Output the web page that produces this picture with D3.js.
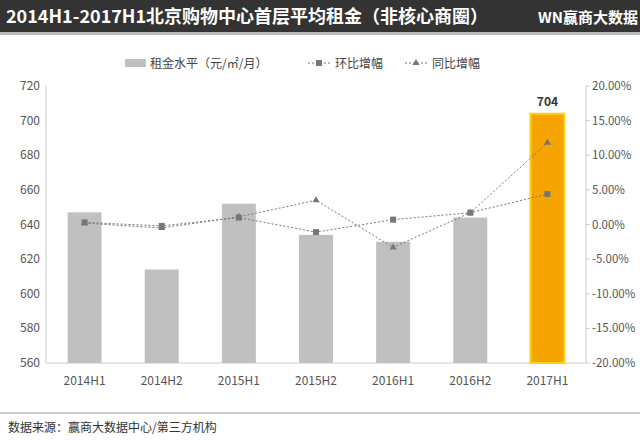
<!DOCTYPE html>
<html>
<head>
<meta charset="utf-8">
<script src="https://cdn.jsdelivr.net/npm/d3@7"></script>
<style>
  body { margin: 0; background: #fff; font-family: "Noto Sans CJK SC", sans-serif; }
</style>
</head>
<body>
<script>
// data
var periods = ["2014H1", "2014H2", "2015H1", "2015H2", "2016H1", "2016H2", "2017H1"];
var rent = [647, 614, 652, 634, 630, 644, 704];
var hoh = [0.3, -0.2, 1.0, -1.1, 0.7, 1.7, 4.4];   // 环比 %
var yoy = [0.2, -0.5, 1.1, 3.5, -3.3, 1.7, 11.8];  // 同比 %
var leftTicks = d3.range(560, 721, 20);
var rightTicks = d3.range(-20, 21, 5);

var W = 640, H = 440;
var svg = d3.select("body").append("svg").attr("width", W).attr("height", H);

// header
svg.append("rect").attr("x", 0).attr("y", 0).attr("width", W).attr("height", 32).attr("fill", "#333");
svg.append("rect").attr("x", 0).attr("y", 32).attr("width", W).attr("height", 3).attr("fill", "#bbb");
svg.append("text").attr("x", 6).attr("y", 23).attr("fill", "#fff")
  .style("font-size", "18px").style("font-weight", "bold")
  .text("2014H1-2017H1北京购物中心首层平均租金（非核心商圈）");
svg.append("text").attr("x", 538).attr("y", 23).attr("fill", "#fff")
  .style("font-size", "15px").style("font-weight", "bold").text("WN赢商大数据");

var m = { l: 46, r: 586, t: 86, b: 363 };
var x = d3.scaleBand().domain(periods).range([m.l, m.r]).paddingInner(0.56).paddingOuter(0.28);
var y = d3.scaleLinear().domain([560, 720]).range([m.b, m.t]);
var y2 = d3.scaleLinear().domain([-20, 20]).range([m.b, m.t]);
var cx = function(i) { return x(periods[i]) + x.bandwidth() / 2; };

// axes
svg.append("line").attr("x1", m.l).attr("x2", m.l).attr("y1", m.t).attr("y2", m.b).attr("stroke", "#ccc");
svg.append("line").attr("x1", m.r).attr("x2", m.r).attr("y1", m.t).attr("y2", m.b).attr("stroke", "#ccc");
svg.append("line").attr("x1", m.l).attr("x2", m.r).attr("y1", m.b).attr("y2", m.b).attr("stroke", "#ccc");

svg.selectAll(".lt").data(leftTicks).enter().append("text")
  .attr("x", m.l - 6).attr("y", function(d) { return y(d) + 4; })
  .attr("text-anchor", "end").attr("fill", "#555").style("font-size", "12px").text(function(d) { return d; });
svg.selectAll(".rt").data(rightTicks).enter().append("text")
  .attr("x", m.r + 6).attr("y", function(d) { return y2(d) + 4; })
  .attr("fill", "#555").style("font-size", "11.5px").text(function(d) { return d.toFixed(2) + "%"; });
svg.selectAll(".rtk").data(rightTicks).enter().append("line")
  .attr("x1", m.r).attr("x2", m.r + 4).attr("y1", function(d) { return y2(d); }).attr("y2", function(d) { return y2(d); })
  .attr("stroke", "#ccc");
svg.selectAll(".xt").data(periods).enter().append("text")
  .attr("x", function(d, i) { return cx(i); }).attr("y", m.b + 22)
  .attr("text-anchor", "middle").attr("fill", "#555").style("font-size", "12px").text(function(d) { return d; });

// bars
svg.selectAll(".bar").data(rent).enter().append("rect")
  .attr("x", function(d, i) { return x(periods[i]); })
  .attr("y", function(d) { return y(d); })
  .attr("width", x.bandwidth())
  .attr("height", function(d) { return m.b - y(d); })
  .attr("fill", function(d, i) { return i === rent.length - 1 ? "#f5a400" : "#c0c0c0"; })
  .attr("stroke", function(d, i) { return i === rent.length - 1 ? "#ffd21a" : "none"; })
  .attr("stroke-width", 2);
svg.append("text").attr("x", cx(6)).attr("y", y(rent[6]) - 8).attr("text-anchor", "middle")
  .attr("fill", "#333").style("font-size", "12px").style("font-weight", "bold").text(rent[6]);

// lines
var line = d3.line().x(function(d, i) { return cx(i); }).y(function(d) { return y2(d); });
[hoh, yoy].forEach(function(s) {
  svg.append("path").datum(s).attr("d", line).attr("fill", "none")
    .attr("stroke", "#777").attr("stroke-width", 1).attr("stroke-dasharray", "2,2");
});
svg.selectAll(".sq").data(hoh).enter().append("rect")
  .attr("x", function(d, i) { return cx(i) - 3; }).attr("y", function(d) { return y2(d) - 3; })
  .attr("width", 6).attr("height", 6).attr("fill", "#777");
svg.selectAll(".tri").data(yoy).enter().append("path")
  .attr("d", d3.symbol().type(d3.symbolTriangle).size(22))
  .attr("transform", function(d, i) { return "translate(" + cx(i) + "," + y2(d) + ")"; })
  .attr("fill", "#777");

// legend
var lg = svg.append("g").style("font-size", "12px").attr("fill", "#444");
lg.append("rect").attr("x", 125).attr("y", 59).attr("width", 21).attr("height", 8).attr("fill", "#c0c0c0");
lg.append("text").attr("x", 150).attr("y", 68).text("租金水平（元/㎡/月）");
lg.append("line").attr("x1", 308).attr("x2", 330).attr("y1", 63).attr("y2", 63).attr("stroke", "#777").attr("stroke-dasharray", "2,2");
lg.append("rect").attr("x", 316).attr("y", 60).attr("width", 6).attr("height", 6).attr("fill", "#777");
lg.append("text").attr("x", 335).attr("y", 68).text("环比增幅");
lg.append("line").attr("x1", 405).attr("x2", 427).attr("y1", 63).attr("y2", 63).attr("stroke", "#777").attr("stroke-dasharray", "2,2");
lg.append("path").attr("d", d3.symbol().type(d3.symbolTriangle).size(22)).attr("transform", "translate(416,63)").attr("fill", "#777");
lg.append("text").attr("x", 432).attr("y", 68).text("同比增幅");

// footer
svg.append("line").attr("x1", 0).attr("x2", W).attr("y1", 413).attr("y2", 413).attr("stroke", "#999");
svg.append("text").attr("x", 8).attr("y", 432).attr("fill", "#333").style("font-size", "12px")
  .text("数据来源：赢商大数据中心/第三方机构");
</script>
</body>
</html>
